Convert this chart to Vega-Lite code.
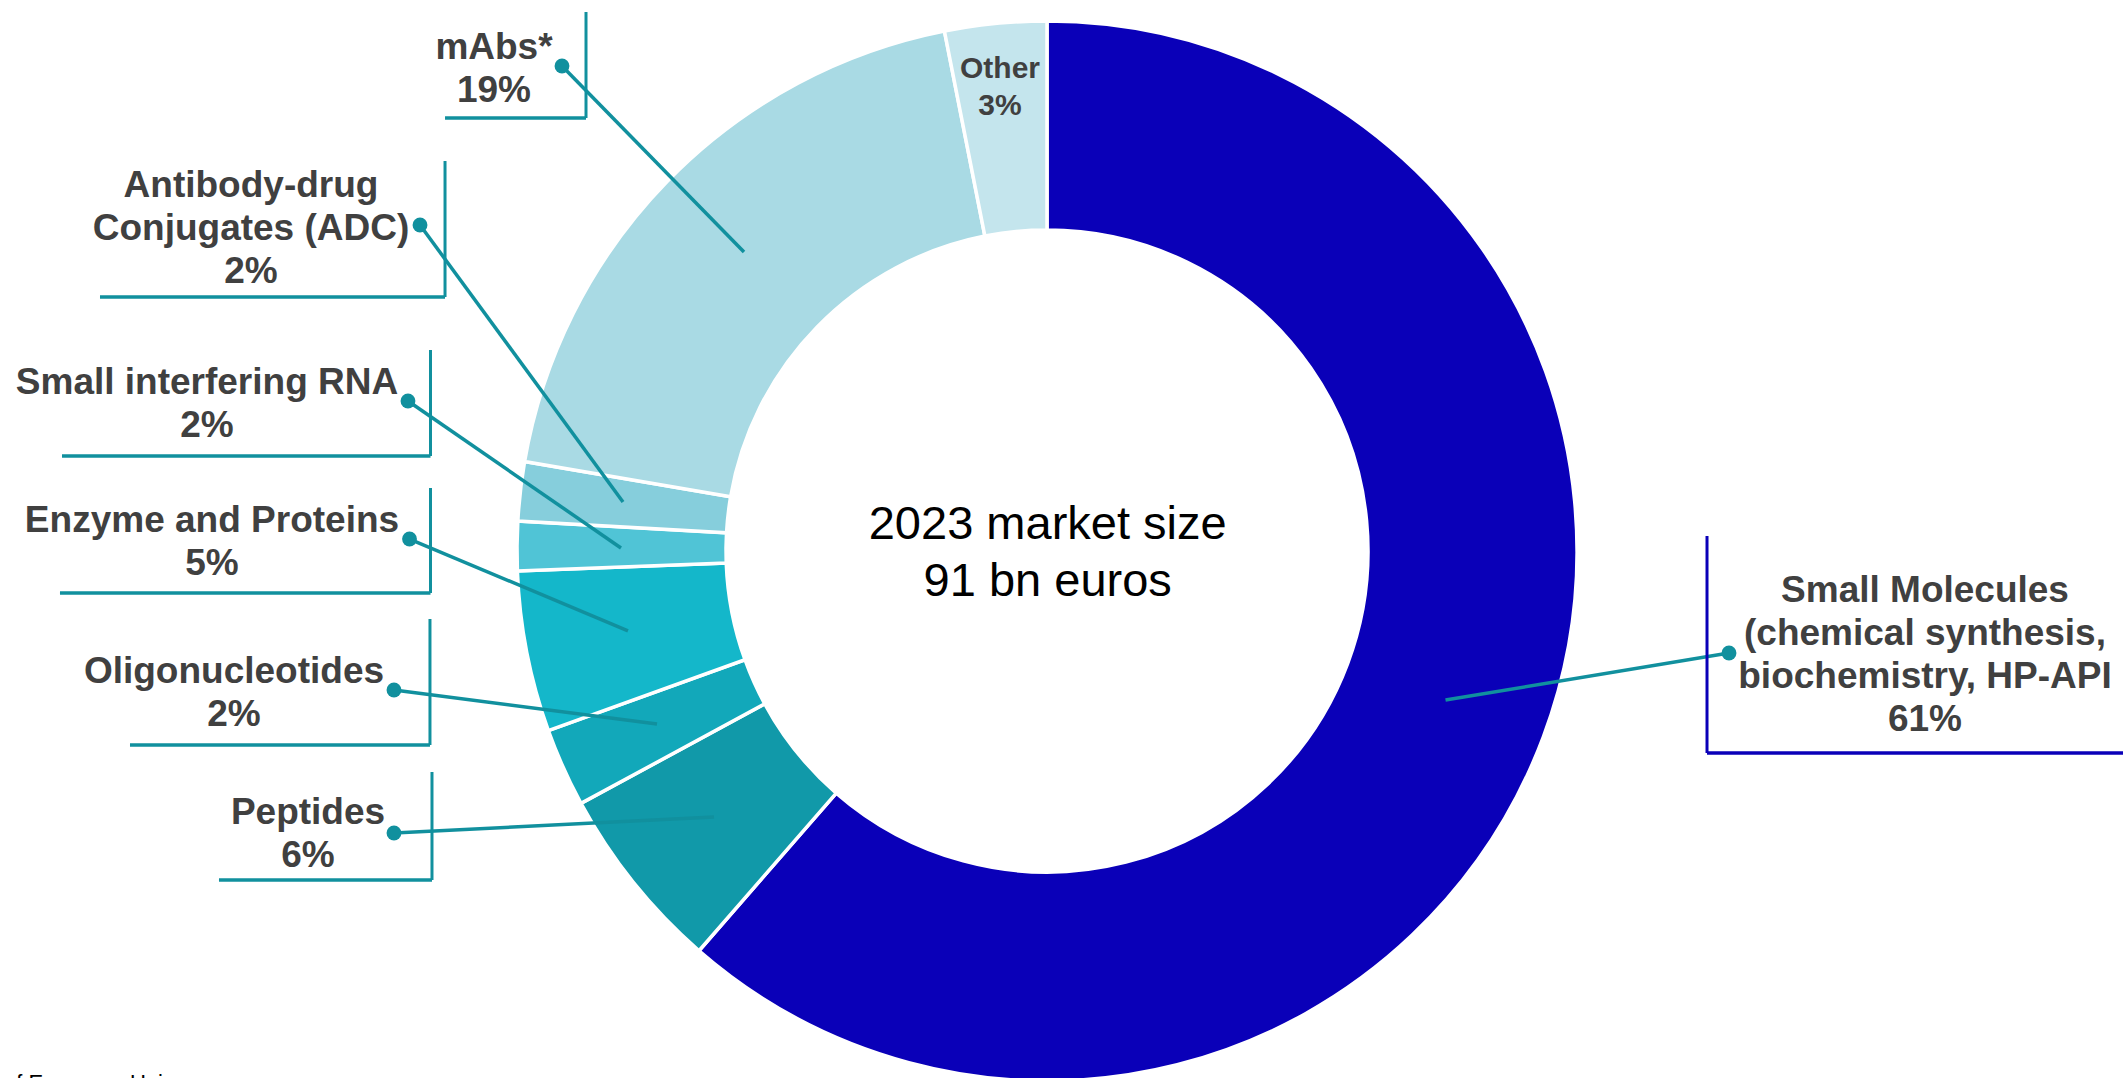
{
  "$schema": "https://vega.github.io/schema/vega-lite/v6.json",
  "width": 2123,
  "height": 1078,
  "padding": 0,
  "autosize": {"type": "none"},
  "background": "white",
  "config": {"view": {"stroke": null}, "font": "Liberation Sans"},
  "datasets": {
    "segments": [
      {"segment": "Small Molecules", "share": 61.4, "order": 1},
      {"segment": "Peptides", "share": 5.7, "order": 2},
      {"segment": "Oligonucleotides", "share": 2.4, "order": 3},
      {"segment": "Enzyme and Proteins", "share": 4.9, "order": 4},
      {"segment": "Small interfering RNA", "share": 1.5, "order": 5},
      {"segment": "Antibody-drug Conjugates (ADC)", "share": 1.8, "order": 6},
      {"segment": "mAbs*", "share": 19.2, "order": 7},
      {"segment": "Other", "share": 3.1, "order": 8}
    ],
    "callouts": [
      {"name": "Small Molecules", "label": "Small Molecules\n(chemical synthesis,\nbiochemistry, HP-API\n61%", "tx": 1.6566, "ty": -0.0962, "dotx": 1.2868, "doty": -0.1925, "endx": 0.7519, "endy": -0.2811, "vx": 1.2453, "vtop": 0.0283, "vbot": -0.3811, "hx1": 1.2453, "hx2": 2.06, "hy": -0.3811},
      {"name": "Peptides", "label": "Peptides\n6%", "tx": -1.3943, "ty": -0.5151, "dotx": -1.2321, "doty": -0.5321, "endx": -0.6283, "endy": -0.5019, "vx": -1.1604, "vtop": -0.4170, "vbot": -0.6208, "hx1": -1.5623, "hx2": -1.1604, "hy": -0.6208},
      {"name": "Oligonucleotides", "label": "Oligonucleotides\n2%", "tx": -1.5340, "ty": -0.2491, "dotx": -1.2321, "doty": -0.2623, "endx": -0.7358, "endy": -0.3264, "vx": -1.1642, "vtop": -0.1283, "vbot": -0.3660, "hx1": -1.7302, "hx2": -1.1642, "hy": -0.3660},
      {"name": "Enzyme and Proteins", "label": "Enzyme and Proteins\n5%", "tx": -1.5755, "ty": 0.0358, "dotx": -1.2028, "doty": 0.0226, "endx": -0.7906, "endy": -0.1509, "vx": -1.1632, "vtop": 0.1189, "vbot": -0.0792, "hx1": -1.8623, "hx2": -1.1632, "hy": -0.0792},
      {"name": "Small interfering RNA", "label": "Small interfering RNA\n2%", "tx": -1.5849, "ty": 0.2962, "dotx": -1.2057, "doty": 0.2830, "endx": -0.8038, "endy": 0.0057, "vx": -1.1632, "vtop": 0.3792, "vbot": 0.1792, "hx1": -1.8585, "hx2": -1.1632, "hy": 0.1792},
      {"name": "Antibody-drug Conjugates (ADC)", "label": "Antibody-drug\nConjugates (ADC)\n2%", "tx": -1.5019, "ty": 0.6679, "dotx": -1.1830, "doty": 0.6151, "endx": -0.8000, "endy": 0.0925, "vx": -1.1358, "vtop": 0.7358, "vbot": 0.4792, "hx1": -1.7868, "hx2": -1.1358, "hy": 0.4792},
      {"name": "mAbs*", "label": "mAbs*\n19%", "tx": -1.0434, "ty": 0.9283, "dotx": -0.9151, "doty": 0.9151, "endx": -0.5717, "endy": 0.5642, "vx": -0.8698, "vtop": 1.0170, "vbot": 0.8170, "hx1": -1.1358, "hx2": -0.8698, "hy": 0.8170}
    ],
    "inner": [
      {"name": "Other", "label": "Other\n3%", "tx": -0.0887, "ty": 0.8925}
    ]
  },
  "layer": [
    {
      "data": {"name": "segments"},
      "mark": {"type": "arc", "x": {"expr": "scale('x', 0)"}, "y": {"expr": "scale('y', 0)"}, "radius": 530, "radius2": 321, "stroke": "white", "strokeWidth": 3.5},
      "encoding": {
        "theta": {"field": "share", "type": "quantitative", "stack": true},
        "order": {"field": "order", "type": "quantitative", "sort": "ascending"},
        "color": {
          "field": "segment", "type": "nominal", "legend": null,
          "scale": {
            "domain": ["Small Molecules", "Peptides", "Oligonucleotides", "Enzyme and Proteins", "Small interfering RNA", "Antibody-drug Conjugates (ADC)", "mAbs*", "Other"],
            "range": ["#0A00B8", "#1199A9", "#12A8BA", "#14B7CA", "#50C4D6", "#86CEDC", "#A9DAE4", "#C4E5ED"]
          }
        }
      }
    },
    {
      "data": {"name": "callouts"},
      "mark": {"type": "rule", "strokeWidth": 3.5, "color": "#11909E"},
      "encoding": {
        "x": {"field": "dotx", "type": "quantitative", "scale": {"domain": [-1.97547, 2.03019], "nice": false, "zero": false}, "axis": null},
        "y": {"field": "doty", "type": "quantitative", "scale": {"domain": [-0.99434, 1.03962], "nice": false, "zero": false}, "axis": null},
        "x2": {"field": "endx"},
        "y2": {"field": "endy"}
      }
    },
    {
      "data": {"name": "callouts"},
      "mark": {"type": "rule", "strokeWidth": 3},
      "encoding": {
        "x": {"field": "vx", "type": "quantitative", "scale": {"domain": [-1.97547, 2.03019], "nice": false, "zero": false}, "axis": null},
        "y": {"field": "vtop", "type": "quantitative", "scale": {"domain": [-0.99434, 1.03962], "nice": false, "zero": false}, "axis": null},
        "y2": {"field": "vbot"},
        "color": {"condition": {"test": "datum.name === 'Small Molecules'", "value": "#0A00B8"}, "value": "#11909E"}
      }
    },
    {
      "data": {"name": "callouts"},
      "mark": {"type": "rule", "strokeWidth": 3.5},
      "encoding": {
        "x": {"field": "hx1", "type": "quantitative", "scale": {"domain": [-1.97547, 2.03019], "nice": false, "zero": false}, "axis": null},
        "x2": {"field": "hx2"},
        "y": {"field": "hy", "type": "quantitative", "scale": {"domain": [-0.99434, 1.03962], "nice": false, "zero": false}, "axis": null},
        "color": {"condition": {"test": "datum.name === 'Small Molecules'", "value": "#0A00B8"}, "value": "#11909E"}
      }
    },
    {
      "data": {"name": "callouts"},
      "mark": {"type": "circle", "size": 220, "opacity": 1, "color": "#11909E"},
      "encoding": {
        "x": {"field": "dotx", "type": "quantitative", "scale": {"domain": [-1.97547, 2.03019], "nice": false, "zero": false}, "axis": null},
        "y": {"field": "doty", "type": "quantitative", "scale": {"domain": [-0.99434, 1.03962], "nice": false, "zero": false}, "axis": null}
      }
    },
    {
      "data": {"name": "callouts"},
      "mark": {"type": "text", "align": "center", "baseline": "alphabetic", "font": "Liberation Sans", "fontWeight": "bold", "fontSize": 37, "lineHeight": 43, "lineBreak": "\n", "color": "#404040"},
      "encoding": {
        "x": {"field": "tx", "type": "quantitative", "scale": {"domain": [-1.97547, 2.03019], "nice": false, "zero": false}, "axis": null},
        "y": {"field": "ty", "type": "quantitative", "scale": {"domain": [-0.99434, 1.03962], "nice": false, "zero": false}, "axis": null},
        "text": {"field": "label", "type": "nominal"}
      }
    },
    {
      "data": {"name": "inner"},
      "mark": {"type": "text", "align": "center", "baseline": "alphabetic", "font": "Liberation Sans", "fontWeight": "bold", "fontSize": 30, "lineHeight": 37, "lineBreak": "\n", "color": "#404040"},
      "encoding": {
        "x": {"field": "tx", "type": "quantitative", "scale": {"domain": [-1.97547, 2.03019], "nice": false, "zero": false}, "axis": null},
        "y": {"field": "ty", "type": "quantitative", "scale": {"domain": [-0.99434, 1.03962], "nice": false, "zero": false}, "axis": null},
        "text": {"field": "label", "type": "nominal"}
      }
    },
    {
      "data": {"values": [{"label": "2023 market size\u00a0\n91 bn euros"}]},
      "mark": {"type": "text", "align": "center", "baseline": "alphabetic", "font": "Liberation Sans", "fontSize": 47, "lineHeight": 57, "lineBreak": "\n", "color": "#000000"},
      "encoding": {
        "x": {"datum": 0.0013, "type": "quantitative", "scale": {"domain": [-1.97547, 2.03019], "nice": false, "zero": false}, "axis": null},
        "y": {"datum": 0.0226, "type": "quantitative", "scale": {"domain": [-0.99434, 1.03962], "nice": false, "zero": false}, "axis": null},
        "text": {"field": "label", "type": "nominal"}
      }
    },
    {
      "data": {"values": [{"label": "of European Union"}]},
      "mark": {"type": "text", "align": "left", "baseline": "alphabetic", "font": "Liberation Sans", "fontSize": 22, "color": "#000000"},
      "encoding": {
        "x": {"datum": -1.9679, "type": "quantitative", "scale": {"domain": [-1.97547, 2.03019], "nice": false, "zero": false}, "axis": null},
        "y": {"datum": -1.0170, "type": "quantitative", "scale": {"domain": [-0.99434, 1.03962], "nice": false, "zero": false}, "axis": null},
        "text": {"field": "label", "type": "nominal"}
      }
    }
  ]
}
